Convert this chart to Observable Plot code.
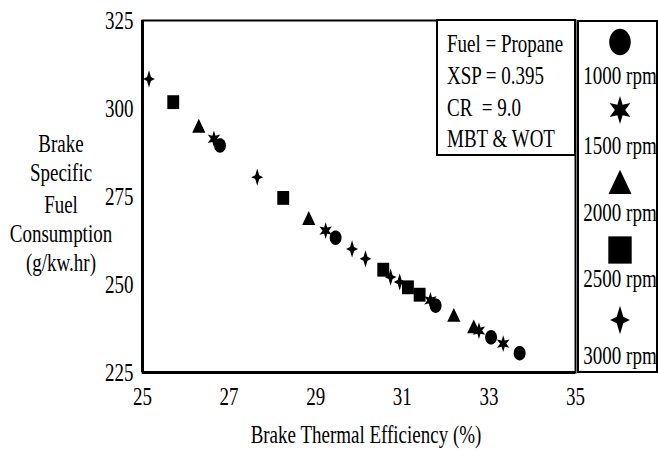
<!DOCTYPE html>
<html>
<head>
<meta charset="utf-8">
<script src="https://cdn.jsdelivr.net/npm/d3@7"></script>
<script src="https://cdn.jsdelivr.net/npm/@observablehq/plot@0.6"></script>
<style>
  html, body { margin: 0; padding: 0; background: #fff; }
  #chart { width: 658px; height: 450px; }
</style>
</head>
<body>
<div id="chart"></div>
<script>
// ---- Data ----
const speeds = ["1000 rpm", "1500 rpm", "2000 rpm", "2500 rpm", "3000 rpm"];
const bte1000 = [26.79, 29.46, 31.77, 33.05, 33.71];
const bsfc1000 = [289.5, 263.3, 244.0, 235.0, 230.5];
const bte1500 = [26.65, 29.23, 31.65, 32.77, 33.33];
const bsfc1500 = [291.4, 265.3, 245.5, 236.9, 233.2];
const bte2000 = [26.30, 28.84, 32.19, 32.65];
const bsfc2000 = [294.9, 268.7, 241.2, 237.9];
const bte2500 = [25.71, 28.25, 30.56, 31.13, 31.40];
const bsfc2500 = [301.8, 274.6, 254.2, 249.2, 247.1];
const bte3000 = [25.15, 27.65, 29.84, 30.15, 30.73, 30.94];
const bsfc3000 = [308.4, 280.5, 260.1, 257.3, 252.1, 250.7];
const xTicks = [25, 27, 29, 31, 33, 35];
const yTicks = [225, 250, 275, 300, 325];
const infoLines = ["Fuel = Propane", "XSP = 0.395", "CR\u00a0\u00a0= 9.0", "MBT & WOT"];
const yTitleLines = ["Brake", "Specific", "Fuel", "Consumption", "(g/kw.hr)"];
const xTitle = "Brake Thermal Efficiency (%)";

const seriesX = [bte1000, bte1500, bte2000, bte2500, bte3000];
const seriesY = [bsfc1000, bsfc1500, bsfc2000, bsfc2500, bsfc3000];

// ---- Custom symbols ----
function polySymbol(pts) {
  return {
    draw(ctx, size) {
      const r = Math.sqrt(size / Math.PI);
      pts.forEach(([px, py], i) => i ? ctx.lineTo(px * r, py * r) : ctx.moveTo(px * r, py * r));
      ctx.closePath();
    }
  };
}
const ellipsePts = d3.range(32).map(i => {
  const a = (i / 32) * 2 * Math.PI;
  return [0.9 * Math.cos(a), 1.1 * Math.sin(a)];
});
const asteriskPts = d3.range(12).map(i => {
  const a = -Math.PI / 2 + i * Math.PI / 6;
  const rr = i % 2 === 0 ? 1.15 : 0.5;
  return [0.95 * rr * Math.cos(a), 1.1 * rr * Math.sin(a)];
});
const trianglePts = [[0, -1.15], [1, 0.95], [-1, 0.95]];
const squarePts = [[-0.9, -1.05], [0.9, -1.05], [0.9, 1.05], [-0.9, 1.05]];
const star4Pts = [[0, -1.3], [0.3, -0.3], [0.9, 0], [0.3, 0.3], [0, 1.3], [-0.3, 0.3], [-0.9, 0], [-0.3, -0.3]];
const symbols = [ellipsePts, asteriskPts, trianglePts, squarePts, star4Pts].map(polySymbol);

const font = "'Liberation Serif', 'Times New Roman', serif";
const SX = 0.76; // horizontal condensation of the text

const dotMarks = speeds.map((s, k) => Plot.dot(
  seriesX[k].map((x, i) => ({x, y: seriesY[k][i], speed: s})),
  {x: "x", y: "y", symbol: symbols[k], r: 6.6, fill: "black", stroke: "none"}
));

const chart = Plot.plot({
  width: 658,
  height: 450,
  marginLeft: 142,
  marginRight: 83,
  marginTop: 20,
  marginBottom: 78,
  style: {fontFamily: font, fontSize: "25px", background: "white", color: "black"},
  x: {domain: [25, 35], ticks: xTicks, tickSize: 0, tickPadding: 15, label: null},
  y: {domain: [225, 325], ticks: yTicks, tickSize: 0, tickPadding: 9, label: null},
  marks: [
    Plot.frame({stroke: "black", strokeWidth: 2}),
    Plot.ruleX([25], {stroke: "black", strokeWidth: 3}),
    Plot.ruleY([225], {stroke: "black", strokeWidth: 3}),
    ...dotMarks
  ]
});
document.getElementById("chart").appendChild(chart);

// condense the axis tick labels horizontally
d3.select(chart).selectAll("text").each(function() {
  const t = d3.select(this);
  const x = +t.attr("x") || 0, y = +t.attr("y") || 0;
  const tr = t.attr("transform") || "";
  t.attr("transform", `${tr} translate(${x},${y}) scale(${SX},1) translate(${-x},${-y})`);
});

// ---- Annotations: text box, legend, axis titles ----
const svg = d3.select(chart);
const g = svg.append("g").attr("font-family", font).attr("font-size", 25).attr("fill", "black");
function label(x, y, t, anchor) {
  return g.append("text").attr("transform", `translate(${x},${y}) scale(${SX},1)`)
    .attr("dy", "0.35em").attr("text-anchor", anchor).text(t);
}

// info box
g.append("rect").attr("x", 437).attr("y", 20).attr("width", 138).attr("height", 135)
  .attr("fill", "white").attr("stroke", "black").attr("stroke-width", 2);
const infoY = [43, 75, 107, 138];
infoLines.forEach((t, i) => label(447, infoY[i], t, "start"));

// legend box
g.append("rect").attr("x", 578).attr("y", 21).attr("width", 79).attr("height", 351)
  .attr("fill", "white").attr("stroke", "black").attr("stroke-width", 2);
const legSymY = [42, 110, 183, 250, 320];
const legTextY = [75, 145, 212, 278, 355];
const legR = [12, 11, 11.5, 13, 11];
speeds.forEach((s, k) => {
  const p = d3.path();
  symbols[k].draw(p, Math.PI * legR[k] * legR[k]);
  g.append("path").attr("d", p.toString())
    .attr("transform", `translate(620,${legSymY[k]})`).attr("fill", "black");
  label(620, legTextY[k], s, "middle");
});

// y title
const yTitleY = [143, 172, 204, 233, 262];
yTitleLines.forEach((t, i) => label(61, yTitleY[i], t, "middle"));
// x title
label(366, 434, xTitle, "middle");
</script>
</body>
</html>
